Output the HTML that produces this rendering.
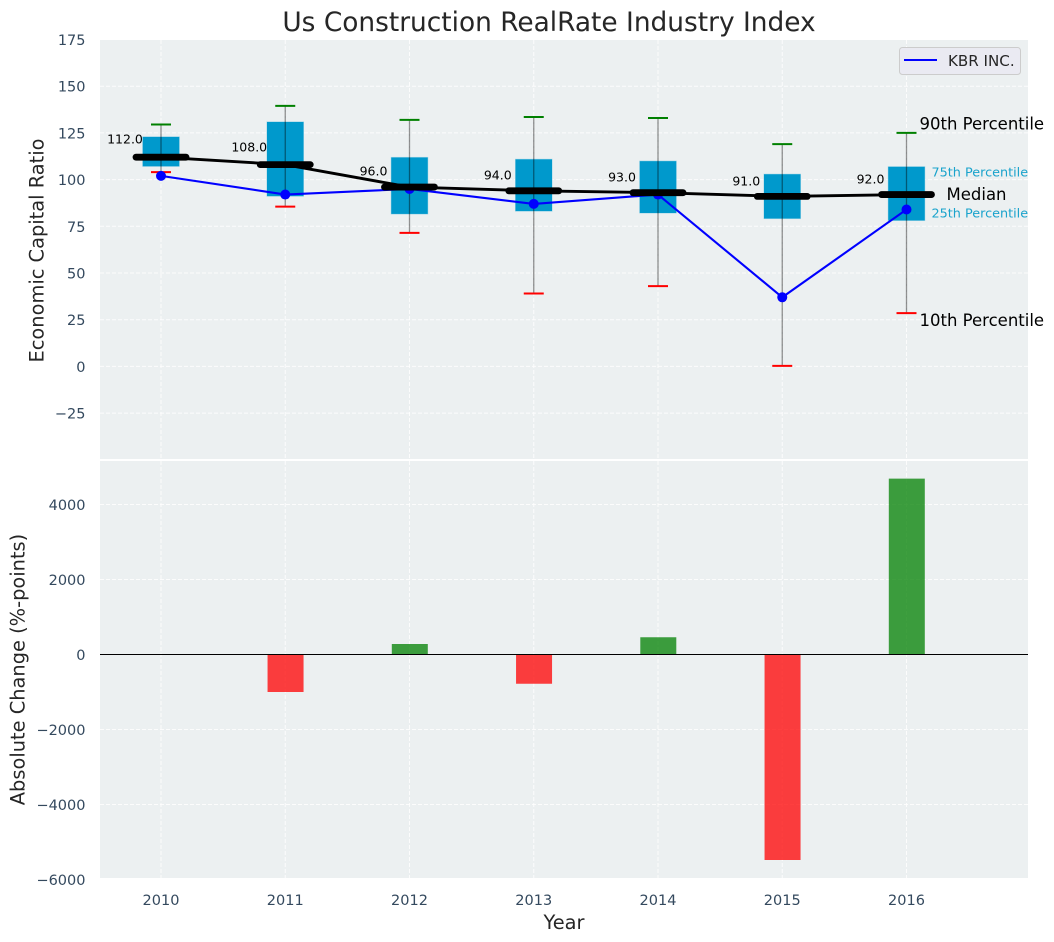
<!DOCTYPE html>
<html lang="en">
<head>
<meta charset="utf-8">
<title>Us Construction RealRate Industry Index</title>
<style>
html,body{margin:0;padding:0;background:#fff;width:1054px;height:942px;overflow:hidden}
svg{display:block;font-family:"DejaVu Sans","Liberation Sans",sans-serif}
</style>
</head>
<body>
<svg id="chart" xmlns="http://www.w3.org/2000/svg" width="1054" height="942" viewBox="0 0 1054 942">
  <text x="549" y="31" text-anchor="middle" font-size="26.4px" fill="#262626">Us Construction RealRate Industry Index</text>
  <rect x="100" y="40" width="928" height="419" fill="#ecf0f1"/>
  <rect x="100" y="461" width="928" height="417" fill="#ecf0f1"/>
  <g id="top-layer"></g>
  <g id="bottom-layer"></g>
  <text transform="translate(43.5,250.5) rotate(-90)" text-anchor="middle" font-size="19.4px" fill="#262626">Economic Capital Ratio</text>
  <text transform="translate(24.5,669.5) rotate(-90)" text-anchor="middle" font-size="19.4px" fill="#262626">Absolute Change (%-points)</text>
  <text x="564" y="929" text-anchor="middle" font-size="19.4px" fill="#262626">Year</text>
  <g>
    <rect x="899.5" y="47.5" width="121" height="27" rx="3" fill="#eaeaf2" stroke="#cccccc"/>
    <line x1="904" x2="937" y1="60" y2="60" stroke="#0000ff" stroke-width="2"/>
    <text x="948" y="66" font-size="15.1px" fill="#262626">KBR INC.</text>
  </g>
</svg>
<script>
const years = [2010, 2011, 2012, 2013, 2014, 2015, 2016];
const p90 = [129.5, 139.5, 132, 133.5, 133, 119, 125];
const p75 = [123, 131, 112, 111, 110, 103, 107];
const medians = [112, 108, 96, 94, 93, 91, 92];
const p25 = [107, 91, 81.5, 83, 82, 79, 78];
const p10 = [104, 85.5, 71.5, 39, 43, 0.3, 28.5];
const kbr = [102, 92, 95, 87, 92, 37, 84];
const changes = [0, -1000, 280, -780, 460, -5480, 4690];
const topTicks = [175, 150, 125, 100, 75, 50, 25, 0, -25];
const bottomTicks = [4000, 2000, 0, -2000, -4000, -6000];

const SVG_NS = 'http://www.w3.org/2000/svg';
const PLOT_LEFT = 100, PLOT_RIGHT = 1028;
const xPos = v => 161 + (v - 2010) * 124.25;
const yTop = v => 366.4 - v * 1.868;
const yBot = v => 654.5 - v * 0.0375;
const topLayer = document.getElementById('top-layer');
const bottomLayer = document.getElementById('bottom-layer');

function mk(parent, tag, attrs, text) {
  const el = document.createElementNS(SVG_NS, tag);
  for (const k in attrs) el.setAttribute(k, attrs[k]);
  if (text !== undefined) el.textContent = text;
  parent.appendChild(el);
  return el;
}
let el;

// horizontal grid and y ticks, top
topTicks.forEach(t => {
  if (yTop(t) > 42) {
    el = mk(topLayer, 'line', {x1: PLOT_LEFT, x2: PLOT_RIGHT, y1: yTop(t), y2: yTop(t), stroke: '#fff', 'stroke-width': 1, 'stroke-dasharray': '4 2', opacity: .85});
    
    
  }
  el = mk(topLayer, 'text', {x: 85.5, y: yTop(t) + 5.5, 'text-anchor': 'end', 'font-size': '14.5px', fill: '#34495e'}, String(t).replace('-', '\u2212'));
  
  
});
// horizontal grid and y ticks, bottom
bottomTicks.forEach(t => {
  if (yBot(t) < 876) {
    el = mk(bottomLayer, 'line', {x1: PLOT_LEFT, x2: PLOT_RIGHT, y1: yBot(t), y2: yBot(t), stroke: '#fff', 'stroke-width': 1, 'stroke-dasharray': '4 2', opacity: .85});
    
    
  }
  el = mk(bottomLayer, 'text', {x: 85.5, y: yBot(t) + 5.5, 'text-anchor': 'end', 'font-size': '14.5px', fill: '#34495e'}, String(t).replace('-', '\u2212'));
  
  
});
// vertical grid and x ticks
years.forEach(y => {
  const x = xPos(y);
  el = mk(topLayer, 'line', {x1: x, x2: x, y1: 40, y2: 459, stroke: '#fff', 'stroke-width': 1, 'stroke-dasharray': '4 2', opacity: .85});
  
  
  el = mk(bottomLayer, 'line', {x1: x, x2: x, y1: 461, y2: 878, stroke: '#fff', 'stroke-width': 1, 'stroke-dasharray': '4 2', opacity: .85});
  
  
  el = mk(bottomLayer, 'text', {x: x, y: 905, 'text-anchor': 'middle', 'font-size': '14.5px', fill: '#34495e'}, String(y));
  
  
});
// boxes
years.forEach((y, i) => {
  el = mk(topLayer, 'rect', {x: xPos(y) - 18.5, y: yTop(p75[i]), width: 37, height: yTop(p25[i]) - yTop(p75[i]), fill: '#0099cc', stroke: '#a8d8e8', 'stroke-width': .5});
  
  
});
// whiskers and caps
years.forEach((y, i) => {
  const x = xPos(y);
  el = mk(topLayer, 'line', {x1: x, x2: x, y1: yTop(p90[i]), y2: yTop(p10[i]), stroke: '#000', 'stroke-width': 1.3, opacity: .42});
  
  
  el = mk(topLayer, 'line', {x1: x - 10, x2: x + 10, y1: yTop(p90[i]), y2: yTop(p90[i]), stroke: '#008000', 'stroke-width': 2});
  
  
  el = mk(topLayer, 'line', {x1: x - 10, x2: x + 10, y1: yTop(p10[i]), y2: yTop(p10[i]), stroke: '#ff0000', 'stroke-width': 2});
  
  
});
// KBR series
years.forEach((y, i) => {
  el = mk(topLayer, 'circle', {cx: xPos(y), cy: yTop(kbr[i]), r: 5, fill: '#0000ff'});
  
  
});
el = mk(topLayer, 'polyline', {points: years.map((y, i) => xPos(y) + ',' + yTop(kbr[i])).join(' '), fill: 'none', stroke: '#0000ff', 'stroke-width': 2.1});


// median line and thick median bars
el = mk(topLayer, 'polyline', {points: years.map((y, i) => xPos(y) + ',' + yTop(medians[i])).join(' '), fill: 'none', stroke: '#000', 'stroke-width': 2.9});


years.forEach((y, i) => {
  const x = xPos(y), m = yTop(medians[i]);
  el = mk(topLayer, 'line', {x1: x - 25, x2: x + 25, y1: m, y2: m, stroke: '#000', 'stroke-width': 6.8, 'stroke-linecap': 'round'});
  
  
  el = mk(topLayer, 'text', {x: x - 36, y: m - medians[i] * 0.12, 'text-anchor': 'middle', 'font-size': '12.5px', fill: '#000'}, medians[i].toFixed(1));
  
  
});
// percentile annotations on the final year
const last = years.length - 1, lx = xPos(years[last]);
el = mk(topLayer, 'text', {x: lx + 13, y: yTop(p90[last]) - 3.5, 'font-size': '16.5px', fill: '#000'}, '90th Percentile');


el = mk(topLayer, 'text', {x: lx + 25, y: yTop(p75[last]) + 10, 'font-size': '12.8px', fill: '#1aa3cc'}, '75th Percentile');


el = mk(topLayer, 'text', {x: lx + 40, y: yTop(medians[last]) + 5.5, 'font-size': '16.5px', fill: '#000'}, 'Median');


el = mk(topLayer, 'text', {x: lx + 25, y: yTop(p25[last]) - 3, 'font-size': '12.8px', fill: '#1aa3cc'}, '25th Percentile');


el = mk(topLayer, 'text', {x: lx + 13, y: yTop(p10[last]) + 13, 'font-size': '16.5px', fill: '#000'}, '10th Percentile');


// change bars
years.forEach((y, i) => {
  if (!changes[i]) return;
  const v = changes[i], y0 = yBot(Math.max(v, 0)), y1 = yBot(Math.min(v, 0));
  el = mk(bottomLayer, 'rect', {x: xPos(y) - 17.7, y: y0, width: 36, height: y1 - y0, fill: v > 0 ? '#008000' : '#ff0000', 'fill-opacity': .75});
  
  
});
el = mk(bottomLayer, 'line', {x1: PLOT_LEFT, x2: PLOT_RIGHT, y1: yBot(0), y2: yBot(0), stroke: '#000', 'stroke-width': 1});


</script>
</body>
</html>
